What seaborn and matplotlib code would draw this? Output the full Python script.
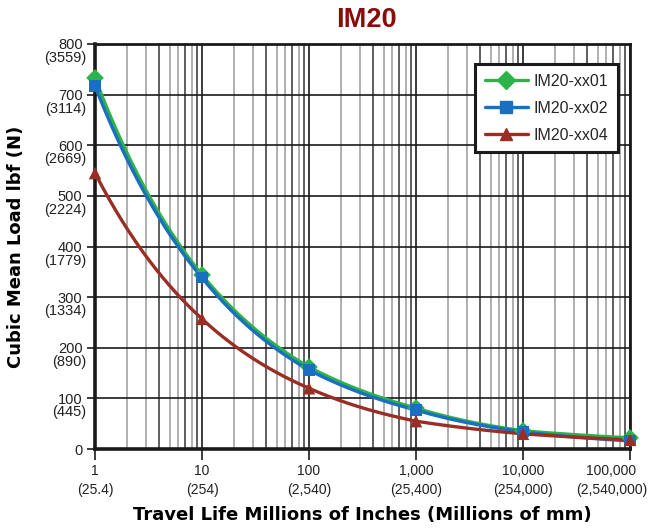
import numpy as np
import pandas as pd
import seaborn as sns
import matplotlib
matplotlib.use("Agg")
import matplotlib.pyplot as plt
import matplotlib.transforms as mtransforms
from matplotlib.lines import Line2D
from matplotlib.ticker import FixedLocator, NullFormatter

# Travel life (millions of inches) and cubic mean load (lbf)
travel_life = [1, 10, 100, 1000, 10000, 100000]
load_xx01 = [733, 344, 162, 81, 36, 22]
load_xx02 = [717, 338, 156, 77, 34, 16]
load_xx04 = [545, 257, 120, 55, 30, 18]

series_names = ["IM20-xx01", "IM20-xx02", "IM20-xx04"]
series_colors = ["#2db34a", "#1a6fc0", "#9a2e25"]
series_markers = ["D", "s", "^"]
series_msize = [9, 8, 9]

x_tick_labels = ["1\n(25.4)", "10\n(254)", "100\n(2,540)", "1,000\n(25,400)",
                 "10,000\n(254,000)", "100,000\n(2,540,000)"]
y_ticks = [0, 100, 200, 300, 400, 500, 600, 700, 800]
y_tick_labels = ["0", "100", "200", "300", "400", "500", "600", "700", "800"]
y_newton_labels = ["", "(445)", "(890)", "(1334)", "(1779)", "(2224)", "(2669)",
                   "(3114)", "(3559)"]

sns.set_theme(style="white")
plt.rcParams["font.family"] = ["Liberation Sans", "DejaVu Sans"]

# Point table and smooth (power-law between points) curve table
loads = [load_xx01, load_xx02, load_xx04]
points = pd.DataFrame({
    "life": np.tile(travel_life, 3),
    "load": np.concatenate(loads),
    "series": np.repeat(series_names, len(travel_life)),
})
dense_x = np.logspace(0, 5, 400)
curves = []
for name, vals in zip(series_names, loads):
    ly = np.interp(np.log10(dense_x), np.log10(travel_life), np.log10(vals))
    curves.append(pd.DataFrame({"life": dense_x, "load": 10 ** ly, "series": name}))
curves = pd.concat(curves, ignore_index=True)

fig = plt.figure(figsize=(6.49, 5.32), dpi=100)
ax = fig.add_axes([0.1464, 0.156, 0.8243, 0.7613])
ax.set_xscale("log")
ax.set_xlim(1, 100000)
ax.set_ylim(0, 800)

# log grid: light and dark minor lines, dark decade and load lines
for dec in travel_life[:-1]:
    for sub in range(2, 10):
        dark = sub in (4, 7, 9)
        ax.axvline(dec * sub, color="#333333" if dark else "#9a9a9a",
                   linewidth=1.1, zorder=0.5)
ax.grid(which="major", axis="x", color="#1a1a1a", linewidth=1.2)
ax.grid(which="major", axis="y", color="#1a1a1a", linewidth=1.2)
ax.set_axisbelow(True)

palette = dict(zip(series_names, series_colors))
sns.lineplot(data=curves, x="life", y="load", hue="series", palette=palette,
             linewidth=2.4, legend=False, ax=ax, zorder=3)
for name, mk, ms in zip(series_names, series_markers, series_msize):
    sub = points[points["series"] == name]
    sns.scatterplot(data=sub, x="life", y="load", color=palette[name], marker=mk,
                    s=ms ** 2, edgecolor="none", legend=False, ax=ax, zorder=4,
                    clip_on=False)

ax.xaxis.set_major_locator(FixedLocator(travel_life))
ax.xaxis.set_minor_locator(FixedLocator([]))
ax.xaxis.set_minor_formatter(NullFormatter())
ax.set_xticklabels(x_tick_labels, fontsize=10, color="#222222", linespacing=1.4)
ax.set_yticks(y_ticks)
ax.set_yticklabels(y_tick_labels, fontsize=10.5, color="#222222")
ax.tick_params(axis="x", which="major", direction="out", length=8, width=1.2,
               color="#1a1a1a", pad=3, bottom=True)
ax.tick_params(axis="y", direction="out", length=6, width=1.2, color="#1a1a1a",
               pad=3, left=True)

# keep the widest travel label inside the figure
last = ax.get_xticklabels()[-1]
last.set_horizontalalignment("right")
last.set_multialignment("center")
last.set_transform(last.get_transform() +
                   mtransforms.ScaledTranslation(0.17, 0, fig.dpi_scale_trans))

# newton equivalents below each load tick label
ytrans = mtransforms.blended_transform_factory(ax.transAxes, ax.transData)
ytrans = ytrans + mtransforms.ScaledTranslation(-9 / 100, -7 / 100, fig.dpi_scale_trans)
for val, lab in zip(y_ticks, y_newton_labels):
    if lab:
        ax.text(0, val, lab, transform=ytrans, ha="right", va="top",
                fontsize=10.5, color="#222222")

for side in ["left", "bottom"]:
    ax.spines[side].set_linewidth(2.6)
    ax.spines[side].set_color("#1a1a1a")
for side in ["top", "right"]:
    ax.spines[side].set_linewidth(2.0)
    ax.spines[side].set_color("#1a1a1a")

ax.set_xlabel("Travel Life Millions of Inches (Millions of mm)", fontsize=13,
              fontweight="heavy", family="DejaVu Sans", labelpad=7, color="black")
ax.set_ylabel("Cubic Mean Load lbf (N)", fontsize=13, fontweight="heavy",
              family="DejaVu Sans", labelpad=24, color="black")
fig.text(0.564, 0.963, "IM20", ha="center", va="center", fontsize=19.5,
         fontweight="bold", family="Liberation Sans", color="#8b0a0a")

handles = [Line2D([0], [0], color=c, marker=m, markersize=s, linewidth=2.4,
                  markeredgecolor=c) for c, m, s in
           zip(series_colors, series_markers, series_msize)]
leg = ax.legend(handles, series_names, loc="upper right",
                bbox_to_anchor=(0.977, 0.95), fontsize=11.5, frameon=True,
                fancybox=False, handlelength=2.7, borderpad=0.6,
                labelspacing=0.75, handletextpad=0.35, borderaxespad=0,
                framealpha=1)
leg.get_frame().set_edgecolor("#1a1a1a")
leg.get_frame().set_linewidth(2.2)

fig.savefig("out.png", dpi=100)
